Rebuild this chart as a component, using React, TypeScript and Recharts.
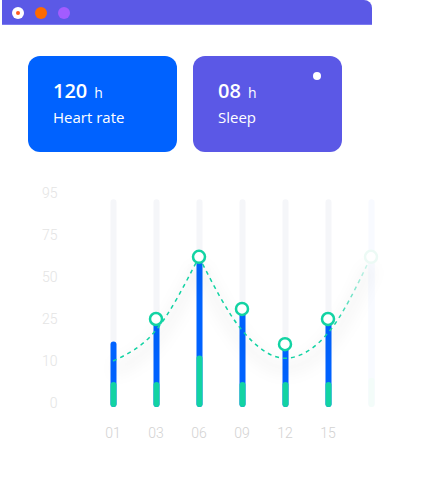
import React from "react";
import { Bar, Cell, ComposedChart, Line, XAxis, YAxis } from "recharts";

const days = ["01", "03", "06", "09", "12", "15", ""];
const heartRate = [17, 25, 62, 31, 16, 25, 62];
const restRate = [5, 5, 12, 5, 5, 5, 6];
const trend = [10, 21, 62, 21, 11, 20, 62];
const hasMarker = [false, true, true, true, true, true, true];
const yTicks = [0, 10, 25, 50, 75, 95];
const trackMax = 92;
const peakIndex = 2;
const fadedIndex = 6;

const BLUE = "#0062ff";
const PURPLE = "#5b58e6";
const GREEN = "#12d3a3";

// tick labels are spaced evenly, so values are placed between neighbouring ticks
function toAxis(v: number) {
  for (let i = 0; i < yTicks.length - 1; i++) {
    if (v <= yTicks[i + 1]) return i + (v - yTicks[i]) / (yTicks[i + 1] - yTicks[i]);
  }
  return yTicks.length - 1;
}

const data = days.map((day, i) => ({
  day,
  track: toAxis(trackMax),
  hr: toAxis(heartRate[i]),
  rest: toAxis(restRate[i]),
  trendA: i <= peakIndex ? toAxis(trend[i]) : null,
  trendB: i >= peakIndex ? toAxis(trend[i]) : null,
  marker: hasMarker[i] ? toAxis(heartRate[i]) : null,
}));

function RoundBar(props: any) {
  const { x, y, width, height, fill } = props;
  if (height == null || isNaN(height)) return null;
  return <rect x={x} y={y} width={width} height={height + 4} rx={width / 2} fill={fill} />;
}

function Marker(props: any) {
  const { cx, cy, index } = props;
  if (cy == null || isNaN(cy)) return <g key={index} />;
  const faded = index === fadedIndex;
  return (
    <circle key={index} cx={cx} cy={cy} r={6} fill="#fff" stroke={faded ? "#ecfaf5" : GREEN} strokeWidth={2.5} />
  );
}

function Header() {
  const dot = (left: number, color: string) => (
    <div style={{ position: "absolute", left: left - 6, top: 7, width: 12, height: 12, borderRadius: 6, background: color }} />
  );
  return (
    <div style={{ position: "absolute", left: 2, top: 0, width: 370, height: 25, background: "#5b59e6", borderTopRightRadius: 8, borderBottom: "1px solid #7c7bf0", boxSizing: "border-box" }}>
      <div style={{ position: "absolute", left: 10, top: 7, width: 12, height: 12, borderRadius: 6, background: "#fff" }}>
        <div style={{ position: "absolute", left: 4, top: 4, width: 4, height: 4, borderRadius: 2, background: "#ff5a1f" }} />
      </div>
      {dot(39, "#ff6a00")}
      {dot(62, "#a35cff")}
    </div>
  );
}

function Card({ left, color, value, label, dot }: { left: number; color: string; value: string; label: string; dot?: boolean }) {
  return (
    <div style={{ position: "absolute", left, top: 56, width: 149, height: 96, borderRadius: 12, background: color, color: "#fff", fontFamily: "'Open Sans', sans-serif" }}>
      <div style={{ position: "absolute", left: 25, top: 21, fontSize: 20, fontWeight: 600, whiteSpace: "nowrap" }}>
        {value}
        <span style={{ fontSize: 14, fontWeight: 500, marginLeft: 7 }}>h</span>
      </div>
      <div style={{ position: "absolute", left: 25, top: 51, fontSize: 15, fontWeight: 500 }}>{label}</div>
      {dot && <div style={{ position: "absolute", left: 120, top: 16, width: 8, height: 8, borderRadius: 4, background: "#fff" }} />}
    </div>
  );
}

export default function App() {
  return (
    <div style={{ position: "absolute", left: 0, top: 0, width: 425, height: 502, background: "#fff", overflow: "hidden" }}>
      <Header />
      <Card left={28} color={BLUE} value="120" label="Heart rate" />
      <Card left={193} color={PURPLE} value="08" label="Sleep" dot />
      <div style={{ position: "absolute", left: 0, top: 170 }}>
        <ComposedChart width={425} height={290} data={data} margin={{ top: 23, right: 32.5, bottom: 27, left: 31.5 }} barSize={6} barGap={-6}>
          <defs>
            <linearGradient id="fadeLine" gradientUnits="userSpaceOnUse" x1={335} y1={0} x2={372} y2={0}>
              <stop offset="0" stopColor={GREEN} stopOpacity={1} />
              <stop offset="1" stopColor={GREEN} stopOpacity={0.08} />
            </linearGradient>
            <filter id="glow" x="-20%" y="-50%" width="140%" height="200%">
              <feOffset dy="10" />
              <feGaussianBlur stdDeviation="7" />
            </filter>
          </defs>
          <XAxis dataKey="day" axisLine={false} tickLine={false} tickSize={0} tickMargin={25} tick={{ fill: "#d2d2d2", fontSize: 14, fontFamily: "Roboto", fontWeight: 300 }} interval={0} />
          <YAxis type="number" domain={[0, yTicks.length - 1]} ticks={yTicks.map((_, i) => i)} tickFormatter={(v) => String(yTicks[v])} axisLine={false} tickLine={false} tickSize={0} tickMargin={34} width={60} tick={{ fill: "#e4e4e4", fontSize: 14, fontFamily: "Roboto", fontWeight: 300 }} />
          <Bar dataKey="track" shape={RoundBar} isAnimationActive={false}>
            {data.map((_, i) => <Cell key={i} fill={i === fadedIndex ? "#f8faff" : "#f5f6f9"} />)}
          </Bar>
          <Bar dataKey="hr" shape={RoundBar} isAnimationActive={false}>
            {data.map((_, i) => <Cell key={i} fill={i === fadedIndex ? "#f8faff" : BLUE} />)}
          </Bar>
          <Bar dataKey="rest" shape={RoundBar} isAnimationActive={false}>
            {data.map((_, i) => <Cell key={i} fill={i === fadedIndex ? "#f3fcf9" : GREEN} />)}
          </Bar>
          <Line dataKey="trendA" type="monotone" stroke="#1d1d4a" strokeOpacity={0.03} strokeWidth={14} filter="url(#glow)" dot={false} activeDot={false} isAnimationActive={false} />
          <Line dataKey="trendB" type="monotone" stroke="#1d1d4a" strokeOpacity={0.03} strokeWidth={14} filter="url(#glow)" dot={false} activeDot={false} isAnimationActive={false} />
          <Line dataKey="trendA" type="monotone" stroke={GREEN} strokeWidth={1.5} strokeDasharray="4 4" dot={false} activeDot={false} isAnimationActive={false} />
          <Line dataKey="trendB" type="monotone" stroke="url(#fadeLine)" strokeWidth={1.5} strokeDasharray="4 4" dot={false} activeDot={false} isAnimationActive={false} />
          <Line dataKey="marker" stroke="none" dot={Marker} activeDot={false} isAnimationActive={false} />
        </ComposedChart>
      </div>
    </div>
  );
}
